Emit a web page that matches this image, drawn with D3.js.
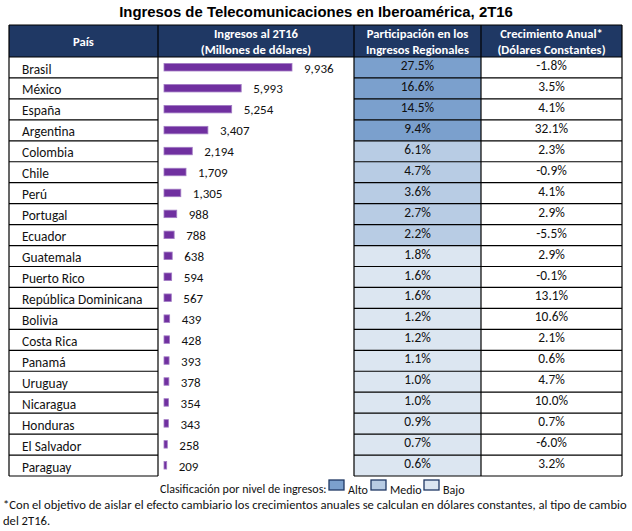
<!DOCTYPE html>
<html>
<head>
<meta charset="utf-8">
<script src="https://cdn.jsdelivr.net/npm/d3@7"></script>
<style>
  body { margin: 0; background: #fff; }
  svg text { font-family: Carlito, Lato, "Open Sans", sans-serif; }
</style>
</head>
<body>
<svg id="chart" width="632" height="531"></svg>
<script>
// datos
var paises = ["Brasil", "México", "España", "Argentina", "Colombia", "Chile", "Perú", "Portugal", "Ecuador",
  "Guatemala", "Puerto Rico", "República Dominicana", "Bolivia", "Costa Rica", "Panamá", "Uruguay",
  "Nicaragua", "Honduras", "El Salvador", "Paraguay"];
var ingresos = [9936, 5993, 5254, 3407, 2194, 1709, 1305, 988, 788, 638, 594, 567, 439, 428, 393, 378, 354, 343, 258, 209];
var participacion = [27.5, 16.6, 14.5, 9.4, 6.1, 4.7, 3.6, 2.7, 2.2, 1.8, 1.6, 1.6, 1.2, 1.2, 1.1, 1.0, 1.0, 0.9, 0.7, 0.6];
var crecimiento = [-1.8, 3.5, 4.1, 32.1, 2.3, -0.9, 4.1, 2.9, -5.5, 2.9, -0.1, 13.1, 10.6, 2.1, 0.6, 4.7, 10.0, 0.7, -6.0, 3.2];
var nivel = ["Alto", "Alto", "Alto", "Alto", "Medio", "Medio", "Medio", "Medio", "Medio",
  "Bajo", "Bajo", "Bajo", "Bajo", "Bajo", "Bajo", "Bajo", "Bajo", "Bajo", "Bajo", "Bajo"];
var niveles = ["Alto", "Medio", "Bajo"];
var encabezados = [["País"], ["Ingresos al 2T16", "(Millones de dólares)"],
  ["Participación en los", "Ingresos Regionales"], ["Crecimiento Anual*", "(Dólares Constantes)"]];

var svg = d3.select("#chart");
var navy = "#1f3864";
var cols = [9, 158, 354, 481, 622];   // bordes de columnas
var top0 = 25, headBottom = 57, bottom = 476;

var color = d3.scaleOrdinal().domain(niveles).range(["#7ba0cd", "#b8cce4", "#dce6f1"]);
var y = d3.scaleBand().domain(paises).range([headBottom, bottom]);
var x = d3.scaleLinear().domain([0, d3.max(ingresos)]).range([0, 128]);
var fmt = d3.format(",");

var rows = paises.map(function(p, i) {
  return {pais: p, ing: ingresos[i], part: participacion[i], crec: crecimiento[i], nivel: nivel[i]};
});

// titulo
svg.append("text")
  .attr("x", 316).attr("y", 17)
  .attr("text-anchor", "middle")
  .style("font-family", "'Liberation Sans', Arial, sans-serif")
  .attr("font-weight", "bold").attr("font-size", 14.9)
  .text("Ingresos de Telecomunicaciones en Iberoamérica, 2T16");

// encabezado
svg.append("rect")
  .attr("x", cols[0]).attr("y", top0)
  .attr("width", cols[4] - cols[0]).attr("height", headBottom - top0)
  .attr("fill", navy);

encabezados.forEach(function(lines, i) {
  var cx = (cols[i] + cols[i + 1]) / 2;
  var t = svg.append("text")
    .attr("text-anchor", "middle")
    .attr("fill", "#fff").attr("font-weight", "bold").attr("font-size", 12.6);
  lines.forEach(function(l, j) {
    var yy = lines.length == 1 ? 46 : 38 + j * 15.5;
    t.append("tspan").attr("x", cx).attr("y", yy).text(l);
  });
});

// celdas de participacion
var g = svg.append("g");
g.selectAll(".part")
  .data(rows).enter().append("rect")
  .attr("class", "part")
  .attr("x", cols[2]).attr("y", function(d) { return y(d.pais); })
  .attr("width", cols[3] - cols[2]).attr("height", y.bandwidth())
  .attr("fill", function(d) { return color(d.nivel); });

// lineas de filas (no cruzan la columna de barras)
var rowLines = y.domain().map(function(p) { return y(p) + y.bandwidth(); });
rowLines.forEach(function(ly) {
  g.append("line")
    .attr("x1", cols[0]).attr("x2", cols[1])
    .attr("y1", ly).attr("y2", ly)
    .attr("stroke", "#000").attr("stroke-width", 1.2);
  g.append("line")
    .attr("x1", cols[2]).attr("x2", cols[4])
    .attr("y1", ly).attr("y2", ly)
    .attr("stroke", "#000").attr("stroke-width", 1.2);
});

// verticales
cols.forEach(function(cx) {
  g.append("line")
    .attr("x1", cx).attr("x2", cx).attr("y1", top0).attr("y2", bottom)
    .attr("stroke", "#000").attr("stroke-width", 1.2);
});
svg.append("line")
  .attr("x1", cols[0]).attr("x2", cols[4]).attr("y1", top0).attr("y2", top0)
  .attr("stroke", "#000").attr("stroke-width", 1.2);
svg.append("line")
  .attr("x1", cols[0]).attr("x2", cols[4]).attr("y1", headBottom).attr("y2", headBottom)
  .attr("stroke", "#000").attr("stroke-width", 1.2);

// textos de filas
g.selectAll(".pais")
  .data(rows).enter().append("text")
  .attr("x", 22).attr("y", function(d) { return y(d.pais) + 16.5; })
  .attr("font-size", 13.4).attr("fill", "#111")
  .text(function(d) { return d.pais; });

g.selectAll(".ptxt")
  .data(rows).enter().append("text")
  .attr("x", (cols[2] + cols[3]) / 2).attr("y", function(d) { return y(d.pais) + 13; })
  .attr("text-anchor", "middle").attr("font-size", 13.4).attr("fill", "#111")
  .text(function(d) { return d.part.toFixed(1) + "%"; });

g.selectAll(".ctxt")
  .data(rows).enter().append("text")
  .attr("x", (cols[3] + cols[4]) / 2).attr("y", function(d) { return y(d.pais) + 13; })
  .attr("text-anchor", "middle").attr("font-size", 13.4).attr("fill", "#111")
  .text(function(d) { return d.crec.toFixed(1) + "%"; });

// barras
var bx = 164;
g.selectAll(".bar")
  .data(rows).enter().append("rect")
  .attr("x", bx).attr("y", function(d) { return y(d.pais) + 6.5; })
  .attr("width", function(d) { return x(d.ing); }).attr("height", 7.5)
  .attr("fill", "#7030a0").attr("stroke", "#a27cc4").attr("stroke-width", 0.8);

g.selectAll(".blab")
  .data(rows).enter().append("text")
  .attr("x", function(d) { return bx + x(d.ing) + 12; })
  .attr("y", function(d) { return y(d.pais) + 15.5; })
  .attr("font-size", 13).attr("fill", "#111")
  .text(function(d) { return fmt(d.ing); });

// leyenda
var leg = svg.append("g").attr("font-size", 12).attr("fill", "#111");
leg.append("text").attr("x", 160).attr("y", 493).text("Clasificación por nivel de ingresos:");
var legX = [329, 371, 424];
niveles.forEach(function(n, i) {
  leg.append("rect")
    .attr("x", legX[i]).attr("y", 480).attr("width", 15).attr("height", 10)
    .attr("fill", color(n)).attr("stroke", navy).attr("stroke-width", 1.3);
  leg.append("text").attr("x", legX[i] + 19).attr("y", 494).text(n);
});

// nota
svg.append("text").attr("x", 3).attr("y", 509).attr("font-size", 12.6).attr("fill", "#111")
  .text("*Con el objetivo de aislar el efecto cambiario los crecimientos anuales se calculan en dólares constantes, al tipo de cambio");
svg.append("text").attr("x", 3).attr("y", 525).attr("font-size", 12.6).attr("fill", "#111")
  .text("del 2T16.");
</script>
</body>
</html>
